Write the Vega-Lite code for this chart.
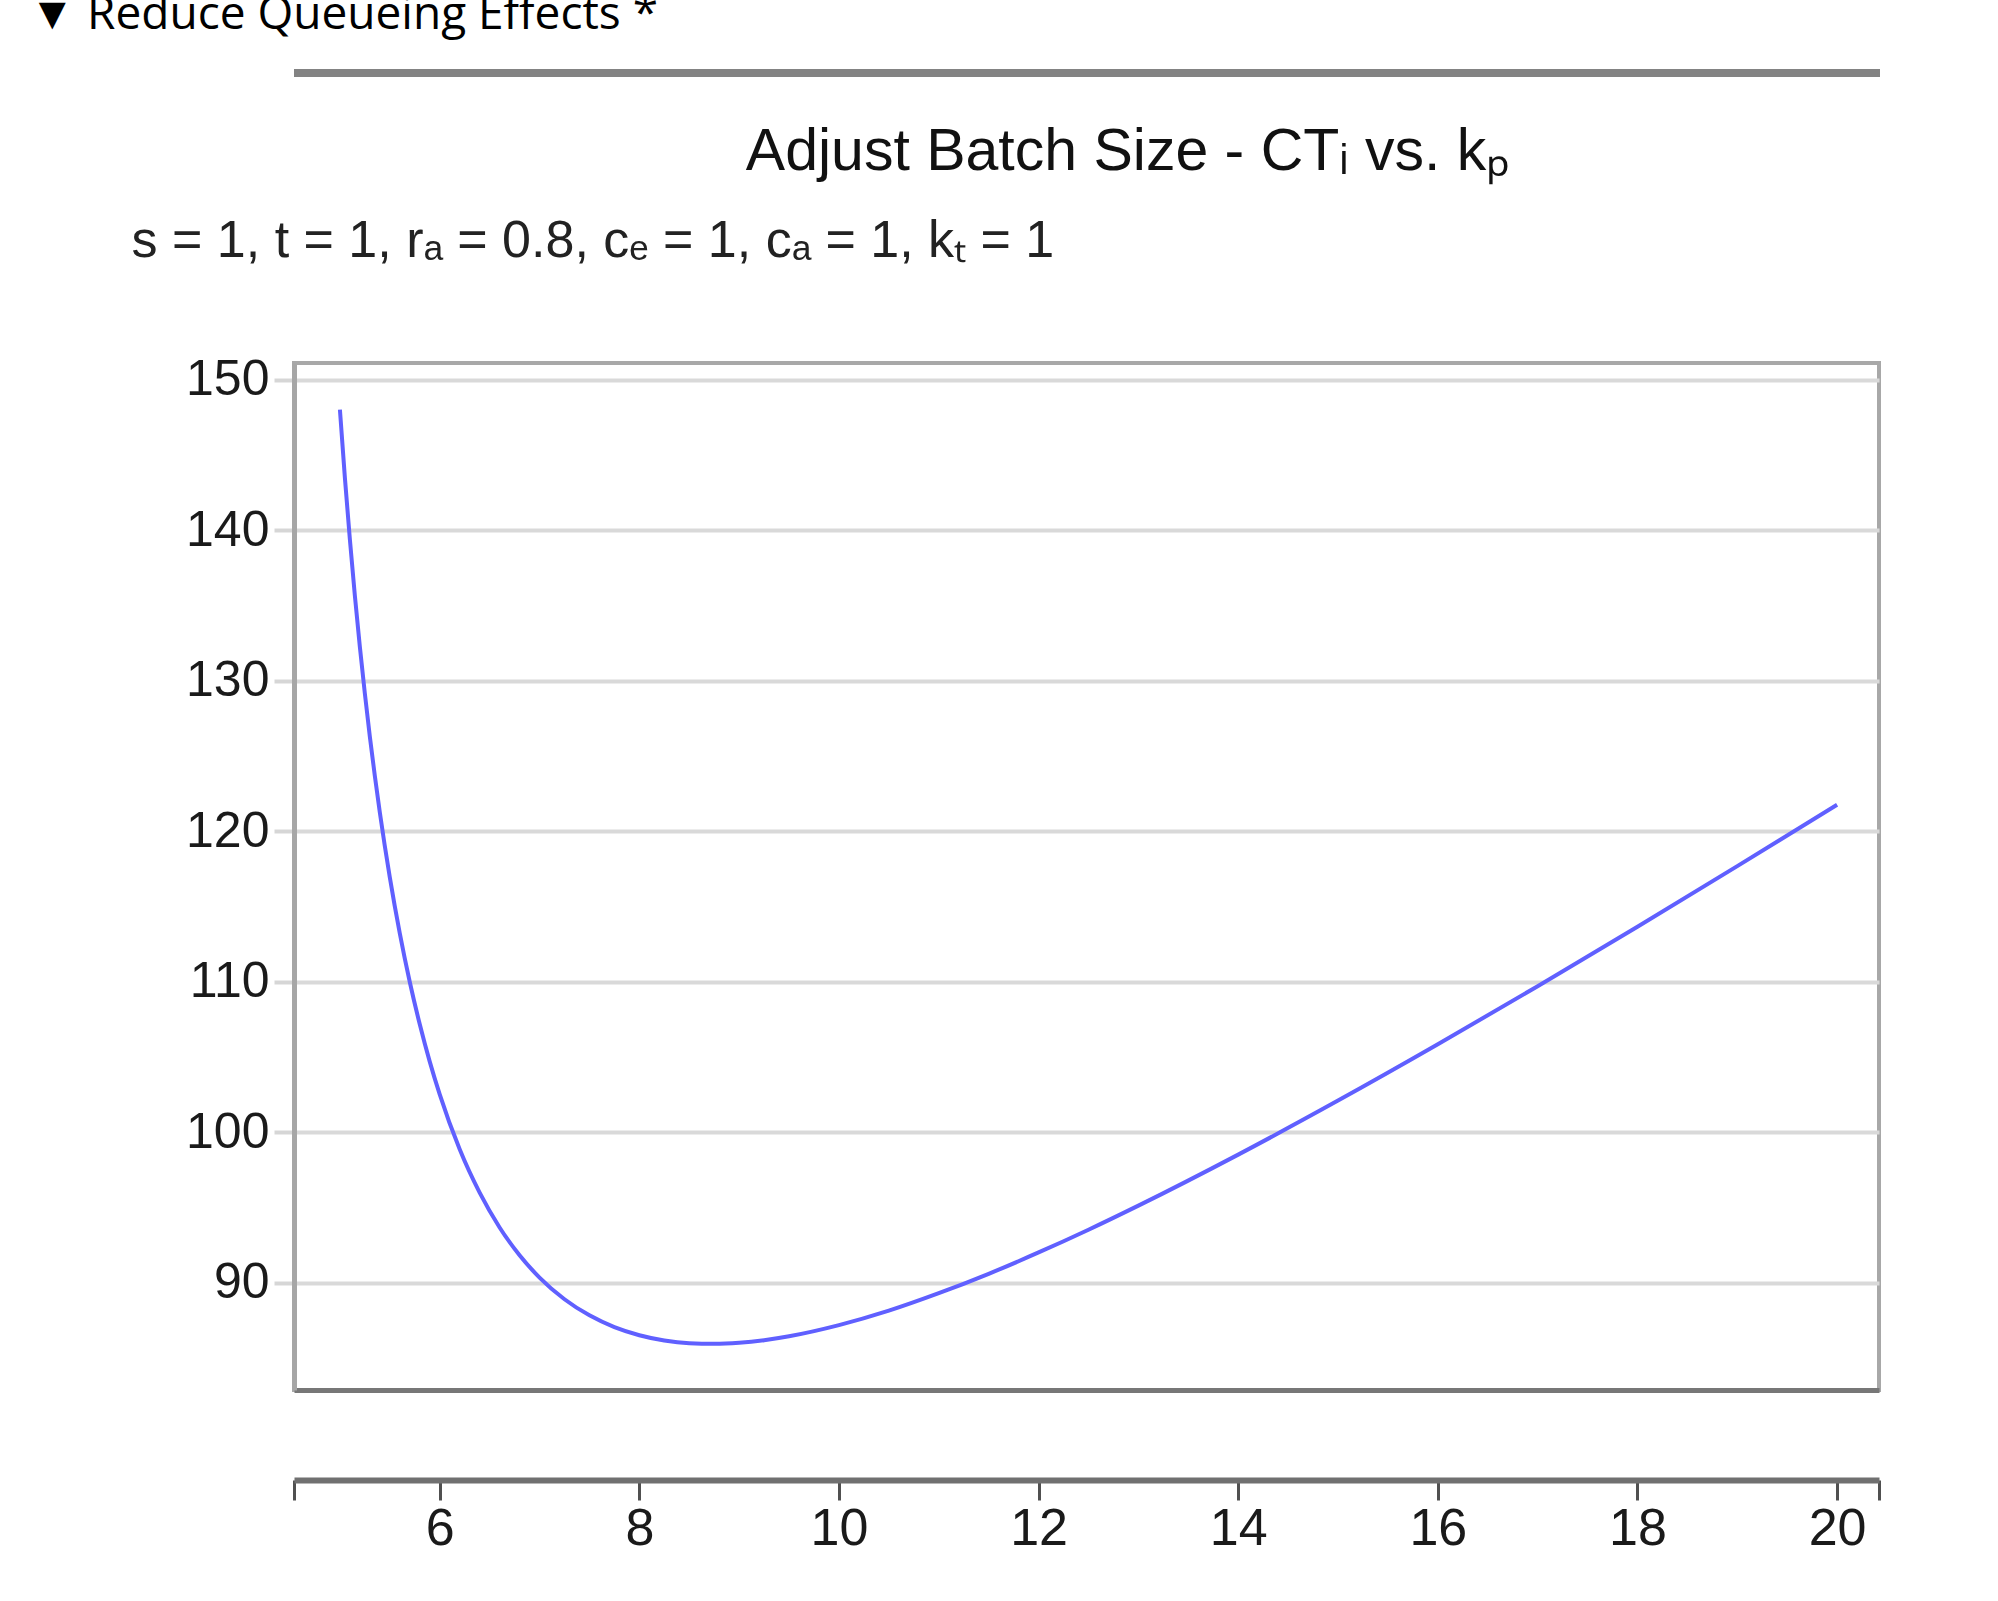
{
  "$schema": "https://vega.github.io/schema/vega-lite/v6.json",
  "background": "white",
  "padding": {"left": 29, "top": -8, "right": 0, "bottom": 0},
  "config": {
    "view": {"stroke": "#a8a8a8", "strokeWidth": 4},
    "font": "Liberation Sans"
  },
  "title": {
    "text": "▼ Reduce Queueing Effects *",
    "anchor": "start",
    "dx": -100,
    "font": "Open Sans",
    "fontSize": 46,
    "fontWeight": "normal",
    "color": "#000000",
    "offset": 30
  },
  "spacing": 45,
  "vconcat": [
    {
      "width": 1586,
      "height": 8,
      "view": {"fill": "#838383", "stroke": null},
      "data": {"values": []},
      "mark": {"type": "point", "opacity": 0}
    },
    {
      "title": {
        "text": "Adjust Batch Size - CTᵢ vs. kₚ",
        "anchor": "middle",
        "dx": 122,
        "font": "Liberation Sans",
        "fontSize": 59,
        "fontWeight": "normal",
        "color": "#111111",
        "offset": 31
      },
      "vconcat": [
        {
          "title": {
            "text": "s = 1, t = 1, rₐ = 0.8, cₑ = 1, cₐ = 1, kₜ = 1",
            "anchor": "start",
            "dx": -54,
            "font": "Liberation Sans",
            "fontSize": 52,
            "fontWeight": "normal",
            "color": "#222222",
            "offset": 87
          },
          "width": 1585,
          "height": 1027,
          "data": {
            "values": [
              {"kp": 5.0, "CT": 148.0},
              {"kp": 5.05, "CT": 143.46},
              {"kp": 5.1, "CT": 139.36},
              {"kp": 5.15, "CT": 135.63},
              {"kp": 5.2, "CT": 132.23},
              {"kp": 5.25, "CT": 129.13},
              {"kp": 5.3, "CT": 126.27},
              {"kp": 5.35, "CT": 123.65},
              {"kp": 5.4, "CT": 121.23},
              {"kp": 5.5, "CT": 116.92},
              {"kp": 5.6, "CT": 113.2},
              {"kp": 5.7, "CT": 109.97},
              {"kp": 5.8, "CT": 107.16},
              {"kp": 5.9, "CT": 104.68},
              {"kp": 6.0, "CT": 102.5},
              {"kp": 6.2, "CT": 98.85},
              {"kp": 6.4, "CT": 95.97},
              {"kp": 6.6, "CT": 93.66},
              {"kp": 6.8, "CT": 91.81},
              {"kp": 7.0, "CT": 90.33},
              {"kp": 7.25, "CT": 88.89},
              {"kp": 7.5, "CT": 87.82},
              {"kp": 7.75, "CT": 87.04},
              {"kp": 8.0, "CT": 86.5},
              {"kp": 8.25, "CT": 86.15},
              {"kp": 8.5, "CT": 85.97},
              {"kp": 8.75, "CT": 85.93},
              {"kp": 9.0, "CT": 86.0},
              {"kp": 9.25, "CT": 86.17},
              {"kp": 9.5, "CT": 86.43},
              {"kp": 10.0, "CT": 87.17},
              {"kp": 10.5, "CT": 88.13},
              {"kp": 11.0, "CT": 89.29},
              {"kp": 11.5, "CT": 90.58},
              {"kp": 12.0, "CT": 92.0},
              {"kp": 12.5, "CT": 93.51},
              {"kp": 13.0, "CT": 95.11},
              {"kp": 14.0, "CT": 98.5},
              {"kp": 15.0, "CT": 102.09},
              {"kp": 16.0, "CT": 105.83},
              {"kp": 17.0, "CT": 109.69},
              {"kp": 18.0, "CT": 113.64},
              {"kp": 19.0, "CT": 117.67},
              {"kp": 20.0, "CT": 121.75}
            ]
          },
          "encoding": {
            "y": {
              "field": "CT",
              "type": "quantitative",
              "scale": {"domain": [82.86, 151.1], "nice": false, "zero": false},
              "axis": {
                "title": null,
                "values": [90, 100, 110, 120, 130, 140, 150],
                "domainColor": "#a6a6a6",
                "domainWidth": 5,
                "tickColor": "#d6d6d6",
                "tickWidth": 4,
                "tickSize": 20,
                "labelFont": "Liberation Sans",
                "labelFontSize": 50,
                "labelColor": "#1a1a1a",
                "labelPadding": 5,
                "gridColor": "#d9d9d9",
                "gridWidth": 4
              }
            }
          },
          "layer": [
            {
              "mark": {"type": "line", "color": "#6060ff", "strokeWidth": 4, "interpolate": "monotone"},
              "encoding": {
                "x": {
                  "field": "kp",
                  "type": "quantitative",
                  "scale": {"domain": [4.54, 20.42], "nice": false, "zero": false},
                  "axis": {
                    "title": null,
                    "orient": "bottom",
                    "offset": 90,
                    "grid": false,
                    "values": [4.54, 6, 8, 10, 12, 14, 16, 18, 20, 20.42],
                    "labelExpr": "datum.value % 2 == 0 ? datum.label : ''",
                    "domainColor": "#707070",
                    "domainWidth": 6,
                    "tickColor": "#505050",
                    "tickWidth": 3,
                    "tickSize": 20,
                    "labelFont": "Liberation Sans",
                    "labelFontSize": 52,
                    "labelColor": "#1a1a1a",
                    "labelPadding": 3
                  }
                }
              }
            },
            {
              "mark": {"type": "line", "strokeOpacity": 0},
              "encoding": {
                "x": {
                  "field": "kp",
                  "type": "quantitative",
                  "axis": {
                    "title": null,
                    "orient": "bottom",
                    "offset": 0,
                    "grid": false,
                    "ticks": false,
                    "labels": false,
                    "domainColor": "#777777",
                    "domainWidth": 5
                  }
                }
              }
            }
          ],
          "resolve": {"axis": {"x": "independent"}}
        }
      ]
    }
  ]
}
